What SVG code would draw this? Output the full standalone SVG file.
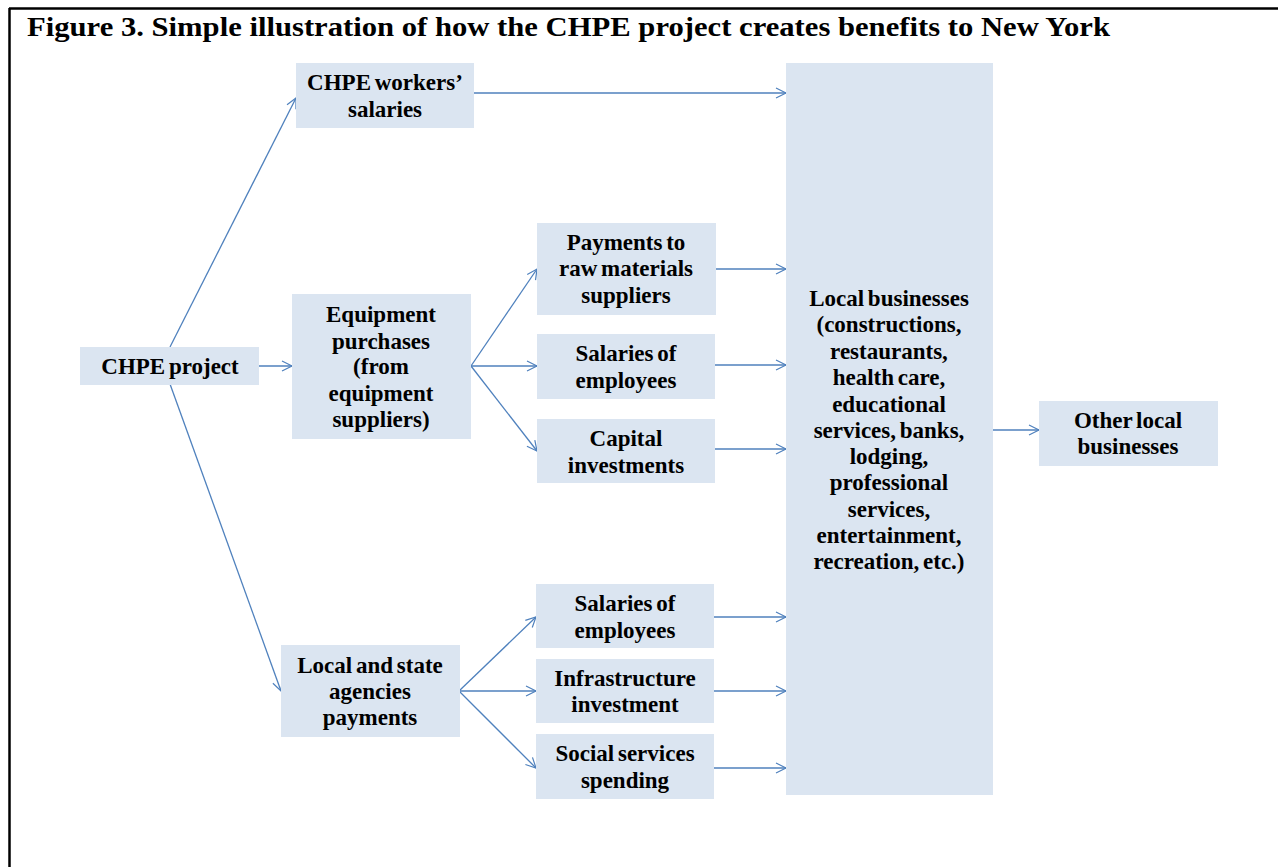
<svg xmlns="http://www.w3.org/2000/svg" width="1278" height="867" viewBox="0 0 1278 867">
  <defs>
    <marker id="arrow" markerUnits="userSpaceOnUse" markerWidth="14" markerHeight="14" refX="11" refY="6" orient="auto">
      <path d="M1,1 L11,6 L1,11" fill="none" stroke="#4f81bd" stroke-width="1.2"/>
    </marker>
    <style>
      .box { fill: #dbe5f1; }
      .lbl { font-family: "Liberation Serif", "Times New Roman", serif; font-weight: bold; font-size: 23px; fill: #000; text-anchor: middle; word-spacing: -2px; }
      .title { font-family: "Liberation Serif", "Times New Roman", serif; font-weight: bold; font-size: 27px; fill: #000; }
      .conn line { stroke: #4f81bd; stroke-width: 1.3; fill: none; marker-end: url(#arrow); }
    </style>
  </defs>

  <rect width="1278" height="867" fill="#ffffff"/>

  <!-- frame: top and left rules -->
  <g id="frame" stroke="#000" stroke-width="2.5" fill="none">
    <line x1="9" y1="8.5" x2="1278" y2="8.5"/>
    <line x1="9.5" y1="8" x2="9.5" y2="867"/>
  </g>

  <text class="title" x="27" y="36" textLength="1083" lengthAdjust="spacingAndGlyphs">Figure 3. Simple illustration of how the CHPE project creates benefits to New York</text>

  <!-- connectors -->
  <g id="connectors" class="conn">
    <line x1="170" y1="347" x2="296" y2="98"/>
    <line x1="259" y1="366" x2="292" y2="366"/>
    <line x1="170" y1="384" x2="281" y2="691"/>
    <line x1="474" y1="93" x2="786" y2="93"/>

    <line x1="471" y1="366" x2="537" y2="269"/>
    <line x1="471" y1="366" x2="537" y2="366"/>
    <line x1="471" y1="366" x2="537" y2="451"/>

    <line x1="716" y1="269" x2="786" y2="269"/>
    <line x1="714" y1="365" x2="786" y2="365"/>
    <line x1="714" y1="449" x2="786" y2="449"/>

    <line x1="459" y1="691" x2="536" y2="617"/>
    <line x1="459" y1="691" x2="536" y2="691"/>
    <line x1="459" y1="691" x2="536" y2="768"/>

    <line x1="714" y1="617" x2="786" y2="617"/>
    <line x1="714" y1="691" x2="786" y2="691"/>
    <line x1="714" y1="768" x2="786" y2="768"/>

    <line x1="993" y1="430" x2="1039" y2="430"/>
  </g>

  <g id="chpe-project">
    <rect class="box" x="80" y="347" width="179" height="38"/>
    <text class="lbl" x="170" y="374">CHPE project</text>
  </g>

  <g id="workers-salaries">
    <rect class="box" x="296" y="63" width="178" height="65"/>
    <text class="lbl" x="385" y="90">CHPE workers’</text>
    <text class="lbl" x="385" y="117">salaries</text>
  </g>

  <g id="equipment-purchases">
    <rect class="box" x="292" y="294" width="179" height="145"/>
    <text class="lbl" x="381" y="322">Equipment</text>
    <text class="lbl" x="381" y="349">purchases</text>
    <text class="lbl" x="381" y="374">(from</text>
    <text class="lbl" x="381" y="401">equipment</text>
    <text class="lbl" x="381" y="427">suppliers)</text>
  </g>

  <g id="agencies-payments">
    <rect class="box" x="281" y="645" width="179" height="92"/>
    <text class="lbl" x="370" y="673">Local and state</text>
    <text class="lbl" x="370" y="699">agencies</text>
    <text class="lbl" x="370" y="725">payments</text>
  </g>

  <g id="raw-materials">
    <rect class="box" x="537" y="223" width="179" height="92"/>
    <text class="lbl" x="626" y="250">Payments to</text>
    <text class="lbl" x="626" y="276">raw materials</text>
    <text class="lbl" x="626" y="303">suppliers</text>
  </g>

  <g id="employee-salaries-1">
    <rect class="box" x="537" y="334" width="178" height="65"/>
    <text class="lbl" x="626" y="361">Salaries of</text>
    <text class="lbl" x="626" y="388">employees</text>
  </g>

  <g id="capital-investments">
    <rect class="box" x="537" y="419" width="178" height="64"/>
    <text class="lbl" x="626" y="446">Capital</text>
    <text class="lbl" x="626" y="473">investments</text>
  </g>

  <g id="employee-salaries-2">
    <rect class="box" x="536" y="584" width="178" height="64"/>
    <text class="lbl" x="625" y="611">Salaries of</text>
    <text class="lbl" x="625" y="638">employees</text>
  </g>

  <g id="infrastructure">
    <rect class="box" x="536" y="659" width="178" height="64"/>
    <text class="lbl" x="625" y="686">Infrastructure</text>
    <text class="lbl" x="625" y="712">investment</text>
  </g>

  <g id="social-services">
    <rect class="box" x="536" y="734" width="178" height="65"/>
    <text class="lbl" x="625" y="761">Social services</text>
    <text class="lbl" x="625" y="788">spending</text>
  </g>

  <g id="local-businesses">
    <rect class="box" x="786" y="63" width="207" height="732"/>
    <text class="lbl" x="889" y="306">Local businesses</text>
    <text class="lbl" x="889" y="332">(constructions,</text>
    <text class="lbl" x="889" y="359">restaurants,</text>
    <text class="lbl" x="889" y="385">health care,</text>
    <text class="lbl" x="889" y="412">educational</text>
    <text class="lbl" x="889" y="438">services, banks,</text>
    <text class="lbl" x="889" y="464">lodging,</text>
    <text class="lbl" x="889" y="490">professional</text>
    <text class="lbl" x="889" y="517">services,</text>
    <text class="lbl" x="889" y="543">entertainment,</text>
    <text class="lbl" x="889" y="569">recreation, etc.)</text>
  </g>

  <g id="other-local-businesses">
    <rect class="box" x="1039" y="401" width="179" height="65"/>
    <text class="lbl" x="1128" y="428">Other local</text>
    <text class="lbl" x="1128" y="454">businesses</text>
  </g>
</svg>
